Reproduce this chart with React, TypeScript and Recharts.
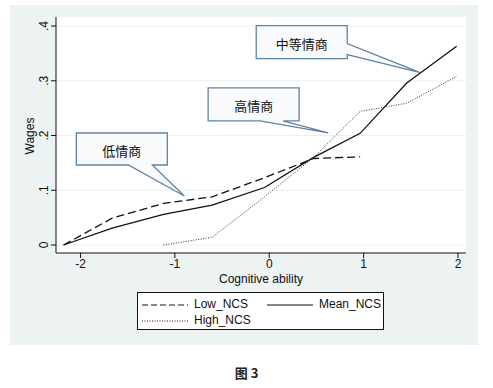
import React from 'react'
import { LineChart, Line, XAxis, YAxis, CartesianGrid, ReferenceDot } from 'recharts'

// values (x = cognitive ability, y = wages)
const abilityPoints = [-2.18, -1.665, -1.12, -0.606, -0.05, 0.47, 0.963, 1.457, 1.986]
const lowNcs = [0, 0.049, 0.076, 0.088, 0.123, 0.158, 0.161, null, null]
const meanNcs = [0, 0.031, 0.056, 0.073, 0.105, 0.16, 0.204, 0.296, 0.363]
const highNcs = [null, null, 0, 0.014, 0.088, 0.16, 0.244, 0.259, 0.308]

const xTicks = [-2, -1, 0, 1, 2]
const yTicks = [0, 0.1, 0.2, 0.3, 0.4]
const yTickLabels = ['0', '.1', '.2', '.3', '.4']

// callouts: label text and the data point the pointer touches
const calloutLabels = ['低情商', '高情商', '中等情商']
const calloutX = [-0.9, 0.624, 1.6]
const calloutY = [0.0895, 0.205, 0.315]

const rows = abilityPoints.map((x, i) => ({
  x,
  low: lowNcs[i],
  mean: meanNcs[i],
  high: highNcs[i],
}))

const FONT = '"Liberation Sans", Arial, sans-serif'
const CJK = '"Noto Sans CJK SC", sans-serif'

function YTick(props: any) {
  const { x, y, payload } = props
  const tx = x - 5
  const i = yTicks.indexOf(payload.value)
  return (
    <text
      x={tx}
      y={y}
      transform={`rotate(-90 ${tx} ${y})`}
      textAnchor="middle"
      dominantBaseline="central"
      fontSize={12}
      fontFamily={FONT}
      fill="#111"
    >
      {i >= 0 ? yTickLabels[i] : payload.value}
    </text>
  )
}

function YTitle(props: any) {
  const vb = props.viewBox || { x: 0, y: 17, width: 56, height: 236 }
  const cx = vb.x + 30
  const cy = vb.y + vb.height / 2 + 1
  return (
    <text
      x={cx}
      y={cy}
      transform={`rotate(-90 ${cx} ${cy})`}
      textAnchor="middle"
      dominantBaseline="central"
      fontSize={12}
      fontFamily={FONT}
      fill="#111"
    >
      Wages
    </text>
  )
}

// box + pointer geometry relative to the tip
const boxes = [
  { l: -108, t: -63, w: 91, h: 32, side: 'bottom', b1: -56, b2: -32 },
  { l: -120, t: -45, w: 91, h: 33, side: 'bottom', b1: -68, b2: -45 },
  { l: -164, t: -47, w: 91, h: 33, side: 'right', b1: -29, b2: -18 },
]

function makeCallout(idx: number) {
  return function CalloutShape(props: any) {
    const { cx, cy } = props
    const b = boxes[idx]
    const L = cx + b.l
    const T = cy + b.t
    const R = L + b.w
    const B = T + b.h
    let d = ''
    if (b.side === 'bottom') {
      d = `M${L},${T} L${R},${T} L${R},${B} L${cx + b.b2},${B} L${cx},${cy} L${cx + b.b1},${B} L${L},${B} Z`
    } else {
      d = `M${L},${T} L${R},${T} L${R},${cy + b.b1} L${cx},${cy} L${R},${cy + b.b2} L${R},${B} L${L},${B} Z`
    }
    return (
      <g>
        <path d={d} fill="#f8fafc" stroke="#5f84a6" strokeWidth={1.3} strokeLinejoin="miter" />
        <text
          x={L + b.w / 2}
          y={T + b.h / 2 + 1}
          textAnchor="middle"
          dominantBaseline="central"
          fontSize={13}
          fontFamily={CJK}
          fill="#111"
        >
          {calloutLabels[idx]}
        </text>
      </g>
    )
  }
}

function LegendSample({ dash, width }: { dash?: string; width: number }) {
  return (
    <svg width={46} height={6} style={{ display: 'block' }}>
      <line x1={0} y1={3} x2={46} y2={3} stroke="#111" strokeWidth={width} strokeDasharray={dash} />
    </svg>
  )
}

export default function App() {
  return (
    <div style={{ position: 'absolute', left: 0, top: 0, width: 493, height: 388, background: '#fff' }}>
      <div style={{ position: 'absolute', left: 10, top: 5, width: 468, height: 340, background: '#edf2f2' }} />
      <div style={{ position: 'absolute', left: 0, top: 0 }}>
        <LineChart width={493} height={388} data={rows} margin={{ top: 17, right: 27, bottom: 115, left: 0 }}>
          <CartesianGrid vertical={false} horizontal stroke="#e9f0f1" fill="#ffffff" horizontalValues={yTicks} />
          <XAxis
            dataKey="x"
            type="number"
            domain={[-2.26, 2.085]}
            ticks={xTicks}
            allowDataOverflow
            height={20}
            tickSize={5}
            tickMargin={1}
            axisLine={{ stroke: '#111' }}
            tickLine={{ stroke: '#111' }}
            tick={{ fontSize: 12, fontFamily: FONT, fill: '#111' }}
            label={{ value: 'Cognitive ability', position: 'bottom', offset: 1, fontSize: 12, fontFamily: FONT, fill: '#111' }}
          />
          <YAxis
            type="number"
            domain={[-0.0146, 0.4165]}
            ticks={yTicks}
            allowDataOverflow
            width={56}
            tickSize={5}
            tickMargin={2}
            axisLine={{ stroke: '#111' }}
            tickLine={{ stroke: '#111' }}
            tick={<YTick />}
            label={{ content: YTitle }}
          />
          <Line dataKey="low" type="linear" stroke="#111" strokeWidth={1.3} strokeDasharray="8 4" dot={false} isAnimationActive={false} />
          <Line dataKey="mean" type="linear" stroke="#111" strokeWidth={1.3} dot={false} isAnimationActive={false} />
          <Line dataKey="high" type="linear" stroke="#333" strokeWidth={1} strokeDasharray="1 1.5" dot={false} isAnimationActive={false} />
          {calloutLabels.map((_, i) => (
            <ReferenceDot key={i} x={calloutX[i]} y={calloutY[i]} r={0} ifOverflow="visible" shape={makeCallout(i)} />
          ))}
        </LineChart>
      </div>
      <div
        style={{
          position: 'absolute',
          left: 137,
          top: 292,
          width: 245,
          height: 36,
          border: '1px solid #111',
          background: '#fff',
          fontFamily: FONT,
          fontSize: 12,
          color: '#111',
        }}
      >
        <div style={{ position: 'absolute', left: 4, top: 9 }}>
          <LegendSample dash="6 3" width={1.2} />
        </div>
        <div style={{ position: 'absolute', left: 56, top: 4 }}>Low_NCS</div>
        <div style={{ position: 'absolute', left: 129, top: 9 }}>
          <LegendSample width={1.2} />
        </div>
        <div style={{ position: 'absolute', left: 181, top: 4 }}>Mean_NCS</div>
        <div style={{ position: 'absolute', left: 4, top: 25 }}>
          <LegendSample dash="1 1.5" width={1} />
        </div>
        <div style={{ position: 'absolute', left: 56, top: 20 }}>High_NCS</div>
      </div>
      <div
        style={{
          position: 'absolute',
          left: 0,
          width: 493,
          top: 363,
          textAlign: 'center',
          fontFamily: CJK,
          fontSize: 13,
          fontWeight: 700,
          color: '#222',
        }}
      >
        图 3
      </div>
    </div>
  )
}
